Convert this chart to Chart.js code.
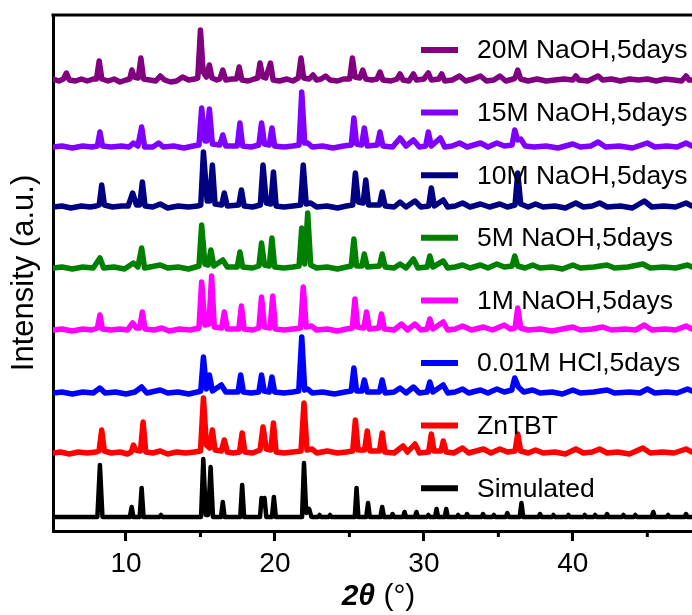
<!DOCTYPE html>
<html>
<head>
  <title>PXRD ZnTBT</title>
  <script src="https://cdn.jsdelivr.net/npm/chart.js@4.4.0/dist/chart.umd.min.js"></script>
  <style>
    body { margin: 0; background: #fff; }
  </style>
</head>
<body>
  <canvas id="xrd" width="692" height="615"></canvas>

  <script>
    // legend order, top to bottom
    const labels = ['20M NaOH,5days', '15M NaOH,5days', '10M NaOH,5days', '5M NaOH,5days',
                    '1M NaOH,5days', '0.01M HCl,5days', 'ZnTBT', 'Simulated'];
    const colors = ['#800080', '#8000ff', '#000080', '#008000', '#ff00ff', '#0000ff', '#ff0000', '#000000'];
    // vertical offset of each pattern (a.u.)
    const offsets = [451, 384, 324, 263, 201, 138, 78, 14];

    const majorTicks = [10, 20, 30, 40];
    const minorTicks = [15, 25, 35, 45];

    // [2theta, intensity]
    const p20 = [[5.1,1],[5.5,-1],[5.8,1],[6.0,7],[6.2,0],[6.6,-1],[7.0,1],[7.4,-1],[7.8,1],[8.02,1],[8.2,19],[8.38,1],[8.8,-1],[9.2,1],[9.6,-2],[10.0,0],[10.25,1],[10.4,10],[10.55,3],[10.82,2],[11.0,22],[11.18,1],[11.6,0],[12.0,-1],[12.3,4],[12.6,0],[13.0,-2],[13.4,-1],[13.8,3],[14.2,0],[14.6,1],[14.82,2],[15.0,50],[15.18,8],[15.4,3],[15.6,15],[15.78,2],[16.1,0],[16.3,1],[16.5,10],[16.7,0],[17.1,1],[17.42,1],[17.6,13],[17.78,0],[18.2,-1],[18.6,1],[18.84,2],[19.0,17],[19.18,3],[19.38,2],[19.7,17],[19.88,0],[20.3,-1],[20.8,1],[21.2,-1],[21.57,2],[21.75,22],[21.93,2],[22.3,1],[22.55,5],[22.8,0],[23.1,1],[23.4,4],[23.7,0],[24.2,-1],[24.6,1],[25.02,1],[25.2,22],[25.38,3],[25.7,2],[25.9,10],[26.1,1],[26.5,0],[26.85,1],[27.05,8],[27.25,0],[27.8,-1],[28.2,1],[28.4,6],[28.6,0],[29.0,-1],[29.3,6],[29.5,0],[30.0,1],[30.3,7],[30.5,0],[31.0,1],[31.2,6],[31.4,-1],[31.9,0],[32.4,4],[32.8,-1],[33.3,1],[33.8,4],[34.2,-1],[34.7,0],[35.1,4],[35.5,-1],[36.0,1],[36.12,2],[36.3,10],[36.5,1],[37.0,-1],[37.6,1],[38.2,-1],[38.8,0],[39.4,1],[40.0,0],[40.2,4],[40.4,0],[41.0,-1],[41.7,4],[42.0,0],[42.6,1],[43.2,-1],[43.8,1],[44.4,0],[45.0,1],[45.6,-1],[46.2,1],[46.8,0],[47.3,-1],[47.6,4],[47.8,0],[48,0]];

    const p15 = [[5.1,0],[5.7,1],[6.4,-1],[7.1,1],[7.7,0],[8.08,1],[8.25,15],[8.42,1],[9.0,0],[9.7,1],[10.2,0],[10.5,4],[10.8,1],[11.05,20],[11.25,0],[11.8,0],[12.2,4],[12.5,0],[13.2,1],[13.9,-1],[14.5,1],[14.9,2],[15.08,39],[15.3,6],[15.42,6],[15.6,38],[15.8,3],[16.3,2],[16.5,12],[16.7,1],[17.47,1],[17.65,24],[17.83,1],[18.4,0],[18.92,2],[19.1,24],[19.3,3],[19.62,2],[19.8,19],[19.98,1],[20.6,0],[21.2,1],[21.62,2],[21.8,55],[22.0,4],[22.2,4],[22.5,0],[23.2,1],[23.9,-1],[24.6,1],[25.12,2],[25.3,29],[25.48,3],[25.82,2],[26.0,19],[26.2,1],[26.87,2],[27.05,15],[27.25,1],[27.9,0],[28.4,9],[28.8,1],[29.3,7],[29.7,0],[30.12,1],[30.3,15],[30.5,1],[31.1,9],[31.4,0],[31.9,1],[32.4,4],[32.9,0],[33.8,4],[34.3,0],[34.9,4],[35.4,1],[35.92,2],[36.1,17],[36.3,7],[36.5,8],[36.8,1],[37.4,0],[38.2,1],[39.0,-1],[40.0,3],[40.5,0],[41.2,1],[41.7,5],[42.2,0],[43.1,1],[44.0,-1],[45.0,4],[45.5,0],[46.3,1],[47.0,0],[47.6,4],[48,1]];

    const p10 = [[5.1,0],[5.7,1],[6.3,-1],[7.0,1],[7.6,0],[8.0,1],[8.2,2],[8.37,22],[8.55,2],[9.1,0],[9.7,1],[10.15,1],[10.45,14],[10.7,2],[10.92,2],[11.1,25],[11.28,1],[11.8,0],[12.3,3],[12.8,-1],[13.5,1],[14.2,0],[14.8,1],[15.02,2],[15.2,55],[15.45,6],[15.62,6],[15.8,42],[15.98,3],[16.42,2],[16.6,14],[16.8,1],[17.57,2],[17.75,17],[17.93,1],[18.5,0],[19.02,2],[19.2,42],[19.42,4],[19.72,3],[19.9,35],[20.08,1],[20.6,0],[21.2,1],[21.72,2],[21.9,42],[22.1,3],[22.4,4],[22.8,0],[23.5,1],[24.2,-1],[24.8,1],[25.22,2],[25.4,34],[25.6,5],[25.92,4],[26.1,27],[26.28,2],[27.02,2],[27.2,15],[27.4,1],[28.0,0],[28.4,5],[28.8,0],[29.4,6],[29.8,0],[30.32,1],[30.5,19],[30.7,1],[31.3,7],[31.6,0],[32.1,1],[32.6,4],[33.1,0],[33.8,3],[34.4,0],[35.1,3],[35.6,0],[36.12,2],[36.3,34],[36.5,3],[37.0,0],[37.5,3],[38.0,0],[38.8,1],[39.5,-1],[40.2,4],[40.7,0],[41.3,1],[41.8,4],[42.3,0],[43.2,1],[44.0,-1],[44.8,6],[45.3,0],[46.1,1],[46.9,0],[47.6,4],[48,1]];

    const p5 = [[5.1,0],[5.7,1],[6.4,-1],[7.1,1],[7.8,0],[8.25,10],[8.5,0],[9.2,1],[9.9,-1],[10.5,5],[10.8,1],[11.05,20],[11.25,0],[12.3,3],[12.8,0],[13.5,1],[14.2,-1],[14.9,2],[15.08,43],[15.3,4],[15.52,3],[15.7,18],[15.9,2],[16.5,8],[16.8,1],[17.47,1],[17.65,16],[17.83,1],[18.5,0],[18.92,2],[19.1,25],[19.3,3],[19.62,2],[19.8,30],[19.98,1],[20.6,0],[21.2,1],[21.62,2],[21.8,40],[22.0,4],[22.2,55],[22.4,3],[22.8,0],[23.5,1],[24.2,-1],[24.8,1],[25.12,2],[25.3,29],[25.48,2],[25.84,2],[26.0,14],[26.2,1],[27.02,2],[27.2,14],[27.4,1],[28.0,0],[28.4,4],[28.8,0],[29.3,9],[29.6,0],[30.22,1],[30.4,12],[30.6,1],[31.3,7],[31.6,0],[32.1,1],[32.6,3],[33.1,0],[33.8,3],[34.3,0],[34.9,4],[35.4,1],[35.92,2],[36.1,12],[36.3,2],[36.8,0],[37.3,3],[37.8,0],[38.6,1],[39.3,-1],[40.0,3],[40.5,0],[41.4,1],[42.3,3],[42.8,0],[43.7,1],[44.7,4],[45.2,0],[46.1,1],[46.9,0],[47.7,3],[48,1]];

    const p1 = [[5.1,0],[5.7,1],[6.4,-1],[7.1,1],[7.7,0],[8.08,2],[8.25,15],[8.42,1],[9.0,0],[9.6,1],[10.1,0],[10.45,7],[10.7,2],[10.92,2],[11.1,18],[11.28,1],[11.9,0],[12.4,2],[12.9,-1],[13.6,1],[14.3,0],[14.9,2],[15.08,48],[15.3,5],[15.57,6],[15.75,54],[15.93,3],[16.42,2],[16.6,18],[16.8,1],[17.57,1],[17.75,24],[17.93,1],[18.5,0],[18.92,2],[19.1,33],[19.3,3],[19.67,2],[19.85,34],[20.03,1],[20.6,0],[21.2,1],[21.72,2],[21.9,43],[22.1,3],[22.45,4],[22.8,0],[23.5,1],[24.2,-1],[24.8,1],[25.19,2],[25.37,31],[25.55,3],[25.97,2],[26.15,18],[26.33,1],[26.97,2],[27.15,16],[27.35,1],[28.0,0],[28.5,6],[28.9,0],[29.4,6],[29.8,0],[30.22,1],[30.4,11],[30.6,1],[31.3,8],[31.6,0],[32.1,1],[32.6,4],[33.2,0],[34.0,3],[34.6,0],[35.4,5],[35.8,1],[36.12,2],[36.3,22],[36.5,2],[37.0,0],[37.8,1],[38.6,-1],[39.3,1],[40.0,3],[40.5,0],[41.3,1],[42.0,3],[42.6,0],[43.5,1],[44.2,0],[44.8,5],[45.3,0],[46.2,1],[46.9,0],[47.6,4],[48,1]];

    const pHcl = [[5.1,0],[5.7,1],[6.4,-1],[7.1,1],[7.8,0],[8.25,5],[8.6,0],[9.3,1],[10.0,-1],[10.6,1],[11.05,6],[11.4,0],[12.3,3],[12.8,0],[13.5,1],[14.2,-1],[14.8,1],[15.02,2],[15.2,36],[15.4,4],[15.6,18],[15.8,2],[16.4,8],[16.7,1],[17.52,1],[17.7,18],[17.88,1],[18.4,0],[18.92,1],[19.1,18],[19.28,2],[19.62,1],[19.8,16],[19.98,1],[20.6,0],[21.2,1],[21.6,2],[21.8,56],[22.0,3],[22.2,4],[22.5,0],[23.2,1],[24.0,-1],[24.7,1],[25.12,2],[25.3,25],[25.48,2],[25.84,2],[26.0,13],[26.2,1],[27.02,1],[27.2,13],[27.4,0],[28.0,1],[28.4,5],[28.8,0],[29.3,6],[29.7,0],[30.22,1],[30.4,11],[30.6,1],[31.3,8],[31.6,0],[32.1,1],[32.6,4],[33.0,0],[33.8,3],[34.3,0],[34.9,4],[35.4,1],[35.9,3],[36.1,15],[36.35,6],[36.7,1],[37.3,3],[37.8,0],[38.6,1],[39.3,-1],[40.0,3],[40.5,0],[41.4,1],[42.3,3],[42.8,0],[43.8,1],[44.5,0],[45.0,4],[45.5,0],[46.3,1],[47.0,0],[47.7,4],[48,2]];

    const pZn = [[5.1,0],[5.6,1],[6.2,-1],[6.8,1],[7.4,0],[8.0,1],[8.19,2],[8.37,23],[8.55,2],[9.0,0],[9.6,1],[10.1,-1],[10.35,1],[10.5,8],[10.65,3],[10.97,2],[11.15,31],[11.33,1],[11.8,0],[12.3,2],[12.8,-1],[13.4,1],[14.0,0],[14.6,1],[15.0,2],[15.2,55],[15.4,8],[15.62,5],[15.8,23],[15.98,3],[16.4,2],[16.6,13],[16.8,1],[17.2,0],[17.62,1],[17.8,20],[17.98,1],[18.5,0],[19.0,3],[19.2,26],[19.42,4],[19.72,3],[19.9,30],[20.08,1],[20.6,0],[21.2,1],[21.75,2],[21.95,50],[22.15,3],[22.5,4],[22.8,0],[23.5,2],[24.2,0],[24.8,1],[25.22,2],[25.4,33],[25.58,3],[26.02,3],[26.2,22],[26.38,2],[27.02,2],[27.2,20],[27.38,1],[28.0,0],[28.6,7],[28.9,1],[29.4,9],[29.7,0],[30.32,1],[30.5,19],[30.68,2],[31.15,2],[31.3,12],[31.5,1],[32.0,0],[32.6,5],[33.0,0],[34.0,4],[34.5,0],[35.1,4],[35.6,1],[36.12,2],[36.3,19],[36.5,2],[37.0,0],[37.5,3],[38.0,0],[38.8,1],[39.5,-1],[40.2,4],[40.7,0],[41.3,1],[41.8,4],[42.3,0],[43.0,1],[43.8,-1],[44.7,5],[45.2,0],[46.0,1],[46.8,0],[47.6,4],[48,1]];

    const pSim = [[5.1,0],[8.08,0],[8.25,52],[8.42,0],[10.26,0],[10.38,10],[10.5,0],[10.92,0],[11.05,29],[11.18,0],[12.25,0],[12.35,2],[12.45,0],[15.04,0],[15.19,58],[15.36,2],[15.52,2],[15.68,50],[15.84,0],[16.38,0],[16.5,15],[16.62,0],[17.67,0],[17.8,32],[17.93,0],[19.0,0],[19.1,19],[19.2,14],[19.3,19],[19.42,0],[19.8,0],[19.93,20],[20.06,0],[21.82,0],[21.95,54],[22.1,4],[22.3,8],[22.45,0],[22.9,0],[23.0,2],[23.1,0],[23.6,0],[23.7,2],[23.8,0],[25.36,0],[25.48,29],[25.6,0],[26.13,0],[26.25,14],[26.37,0],[27.08,0],[27.2,10],[27.32,0],[27.8,0],[27.9,3],[28.0,0],[28.6,0],[28.7,5],[28.8,0],[29.4,0],[29.5,5],[29.6,0],[30.2,0],[30.3,2],[30.4,0],[30.75,0],[30.85,8],[30.95,0],[31.4,0],[31.5,8],[31.6,0],[32.2,0],[32.3,2],[32.4,0],[32.8,0],[32.9,3],[33.0,0],[33.87,0],[33.97,3],[34.07,0],[34.6,0],[34.7,2],[34.8,0],[35.5,0],[35.6,4],[35.7,0],[36.43,0],[36.55,14],[36.67,0],[37.7,0],[37.8,3],[37.9,0],[38.6,0],[38.7,2],[38.8,0],[39.6,0],[39.7,2],[39.8,0],[40.7,0],[40.8,2],[40.9,0],[41.4,0],[41.5,2],[41.6,0],[42.2,0],[42.3,3],[42.4,0],[43.3,0],[43.4,2],[43.5,0],[44.1,0],[44.2,2],[44.3,0],[45.3,0],[45.4,5],[45.5,0],[46.3,0],[46.4,2],[46.5,0],[47.5,0],[47.6,3],[47.7,0],[48,0]];

    const patterns = [p20, p15, p10, p5, p1, pHcl, pZn, pSim];

    const FONT = '"Liberation Sans", Arial, sans-serif';

    // axis title with bold italic 2θ, top frame line, minor ticks, legend
    const decor = {
      id: 'decor',
      afterDraw(chart) {
        const { ctx, chartArea: a, scales: { x } } = chart;
        ctx.save();
        ctx.strokeStyle = '#000';
        ctx.lineWidth = 3;
        ctx.beginPath();
        ctx.moveTo(a.left - 1.5, a.top);
        ctx.lineTo(a.right, a.top);
        ctx.stroke();

        minorTicks.forEach(v => {
          const px = x.getPixelForValue(v);
          ctx.beginPath();
          ctx.moveTo(px, a.bottom);
          ctx.lineTo(px, a.bottom + 6);
          ctx.stroke();
        });

        // x title
        ctx.fillStyle = '#000';
        ctx.textBaseline = 'middle';
        ctx.textAlign = 'left';
        const f1 = 'italic bold 30px ' + FONT, f2 = '30px ' + FONT;
        ctx.font = f1;
        const w1 = ctx.measureText('2θ').width;
        ctx.font = f2;
        const w2 = ctx.measureText(' (°)').width;
        let tx = (a.left + a.right) / 2 + 6 - (w1 + w2) / 2;
        ctx.font = f1;
        ctx.fillText('2θ', tx, 597);
        ctx.font = f2;
        ctx.fillText(' (°)', tx + w1, 597);

        // legend
        ctx.font = '26.5px ' + FONT;
        labels.forEach((lab, i) => {
          const y = a.top + 35 + i * 62.6;
          ctx.strokeStyle = colors[i];
          ctx.lineWidth = 6;
          ctx.beginPath();
          ctx.moveTo(421, y);
          ctx.lineTo(458, y);
          ctx.stroke();
          ctx.fillStyle = '#000';
          ctx.fillText(lab, 477, y + 1);
        });
        ctx.restore();
      }
    };

    const datasets = patterns.map((pts, i) => ({
      label: labels[i],
      data: pts.map(p => ({ x: p[0], y: p[1] + offsets[i] })),
      borderColor: colors[i],
      borderWidth: i === 7 ? 4.5 : 5.5,
      pointRadius: 0,
      tension: 0,
      borderJoinStyle: 'round',
      borderCapStyle: 'round',
      fill: false
    }));

    new Chart(document.getElementById('xrd'), {
      type: 'line',
      data: { datasets },
      options: {
        responsive: false,
        animation: false,
        devicePixelRatio: 1,
        layout: { padding: { top: 15, right: 0, left: 0, bottom: 0 } },
        plugins: { legend: { display: false }, tooltip: { enabled: false } },
        scales: {
          x: {
            type: 'linear',
            min: 5.1,
            max: 48,
            afterBuildTicks: s => { s.ticks = majorTicks.map(v => ({ value: v })); },
            afterFit: s => { s.height = 84; },
            ticks: {
              color: '#000',
              font: { family: FONT, size: 28 },
              padding: 6,
              maxRotation: 0,
              autoSkip: false
            },
            grid: {
              display: true,
              drawOnChartArea: false,
              drawTicks: true,
              tickLength: 10,
              tickWidth: 3,
              tickColor: '#000'
            },
            border: { display: true, width: 3, color: '#000' }
          },
          y: {
            min: 0,
            max: 516,
            afterFit: s => { s.width = 53; },
            ticks: { display: false },
            grid: { display: false },
            border: { display: true, width: 3, color: '#000' },
            title: {
              display: true,
              text: 'Intensity (a.u.)',
              color: '#000',
              font: { family: FONT, size: 31 },
              padding: { top: 6, bottom: 0 }
            }
          }
        }
      },
      plugins: [decor]
    });
  </script>
</body>
</html>
